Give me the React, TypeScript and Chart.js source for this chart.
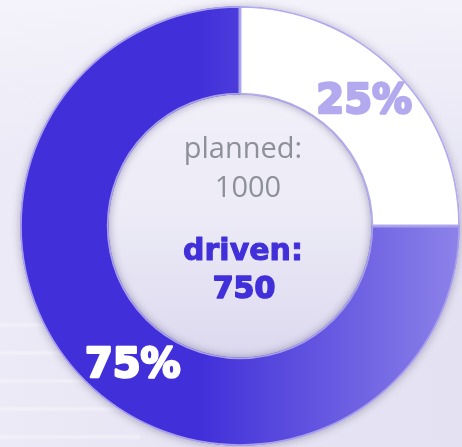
import React, { useEffect, useRef } from "react";
import { Chart, registerables } from "chart.js";

Chart.register(...registerables);

const categories = ["remaining", "driven"];
const values = [250, 750];
const percentLabels = ["25%", "75%"];
const plannedTotal = 1000;
const drivenTotal = 750;

const W = 462;
const H = 447;

function heavyText(ctx: CanvasRenderingContext2D, text: string, x: number, y: number, color: string, stroke: number) {
  ctx.fillStyle = color;
  ctx.strokeStyle = color;
  ctx.lineWidth = stroke;
  ctx.lineJoin = "round";
  ctx.strokeText(text, x, y);
  ctx.fillText(text, x, y);
}

const centerPlugin = {
  id: "centerDecor",
  beforeDatasetsDraw(chart: any) {
    const meta = chart.getDatasetMeta(0);
    const arc = meta.data[0];
    if (!arc) return;
    const { x, y, outerRadius, innerRadius } = arc.getProps(["x", "y", "outerRadius", "innerRadius"], true);
    const ctx = chart.ctx;
    ctx.save();
    ctx.shadowColor = "rgba(60,50,90,0.35)";
    ctx.shadowBlur = 8;
    ctx.shadowOffsetY = 1;
    ctx.beginPath();
    ctx.arc(x, y, outerRadius, 0, Math.PI * 2);
    ctx.arc(x, y, innerRadius, 0, Math.PI * 2, true);
    ctx.fillStyle = "#ffffff";
    ctx.fill();
    ctx.restore();

    ctx.save();
    const g = ctx.createLinearGradient(0, y - innerRadius, 0, y + innerRadius);
    g.addColorStop(0, "#f1f0f9");
    g.addColorStop(0.45, "#ecebf6");
    g.addColorStop(1, "#dcd9ef");
    ctx.beginPath();
    ctx.arc(x, y, innerRadius, 0, Math.PI * 2);
    ctx.fillStyle = g;
    ctx.fill();
    ctx.restore();
  },
  afterDatasetsDraw(chart: any) {
    const meta = chart.getDatasetMeta(0);
    const arcs = meta.data;
    if (!arcs.length) return;
    const { x, y, innerRadius } = arcs[0].getProps(["x", "y", "innerRadius"], true);
    const ctx = chart.ctx;

    ctx.save();
    ctx.beginPath();
    ctx.arc(x, y, innerRadius, 0, Math.PI * 2);
    ctx.clip();
    ctx.shadowColor = "rgba(50,40,90,0.4)";
    ctx.shadowBlur = 8;
    ctx.beginPath();
    ctx.arc(x, y, innerRadius + 10, 0, Math.PI * 2);
    ctx.lineWidth = 20;
    ctx.strokeStyle = "rgba(120,110,200,1)";
    ctx.stroke();
    ctx.restore();

    ctx.save();
    ctx.textAlign = "center";
    ctx.textBaseline = "middle";
    ctx.font = "bold 40px 'DejaVu Sans'";
    const p0 = arcs[0].tooltipPosition(false);
    heavyText(ctx, percentLabels[0], p0.x, p0.y + 1, "#b2a9ee", 2.5);
    const p1 = arcs[1].tooltipPosition(false);
    heavyText(ctx, percentLabels[1], p1.x + 17, p1.y + 16, "#ffffff", 2.5);

    ctx.textBaseline = "alphabetic";
    ctx.font = "400 29px 'Open Sans'";
    ctx.fillStyle = "#8d9099";
    ctx.fillText("planned:", x + 3, y - 68);
    ctx.fillText(String(plannedTotal), x + 8, y - 29);
    ctx.font = "bold 30px 'DejaVu Sans'";
    heavyText(ctx, "driven:", x + 3, y + 34, "#4130d9", 1.0);
    heavyText(ctx, String(drivenTotal), x + 4, y + 72, "#4130d9", 1.6);
    ctx.restore();
  },
};

export default function App() {
  const ref = useRef<HTMLCanvasElement | null>(null);
  useEffect(() => {
    if (!ref.current) return;
    const chart = new Chart(ref.current, {
      type: "doughnut",
      data: {
        labels: categories,
        datasets: [
          {
            data: values,
            backgroundColor: (c: any) => {
              if (c.dataIndex === 0) return "#ffffff";
              const ch = c.chart;
              const g = ch.ctx.createLinearGradient(200, 0, 462, 0);
              g.addColorStop(0, "#4130d9");
              g.addColorStop(1, "#8d83e9");
              return g;
            },
            borderColor: ["#b3abef", "#a9a0ec"],
            borderWidth: 1.5,
            borderAlign: "inner",
          },
        ],
      },
      options: {
        responsive: false,
        animation: false,
        radius: 220,
        cutout: 132,
        layout: { padding: { left: 18, right: 0, top: 5, bottom: 0 } },
        plugins: {
          legend: { display: false },
          tooltip: { enabled: false },
          title: { display: false },
        },
      } as any,
      plugins: [centerPlugin],
    });
    return () => chart.destroy();
  }, []);

  return (
    <div
      style={{
        position: "fixed",
        left: 0,
        top: 0,
        width: W,
        height: H,
        overflow: "hidden",
        background:
          "linear-gradient(180deg, rgba(245,244,251,0.9) 0%, rgba(236,235,247,0.5) 35%, rgba(0,0,0,0) 60%), linear-gradient(90deg, #eceaf6 0%, #e7e5f4 40%, #e4e2f2 100%)",
      }}
    >
      <div
        style={{
          position: "absolute",
          left: 0,
          top: 300,
          width: 140,
          height: 147,
          background:
            "repeating-linear-gradient(180deg, rgba(255,255,255,0) 0px, rgba(255,255,255,0) 22px, rgba(255,255,255,0.55) 25px, rgba(255,255,255,0) 28px)",
          opacity: 0.7,
        }}
      />
      <canvas ref={ref} width={W} height={H} style={{ position: "absolute", left: 0, top: 0 }} />
    </div>
  );
}
